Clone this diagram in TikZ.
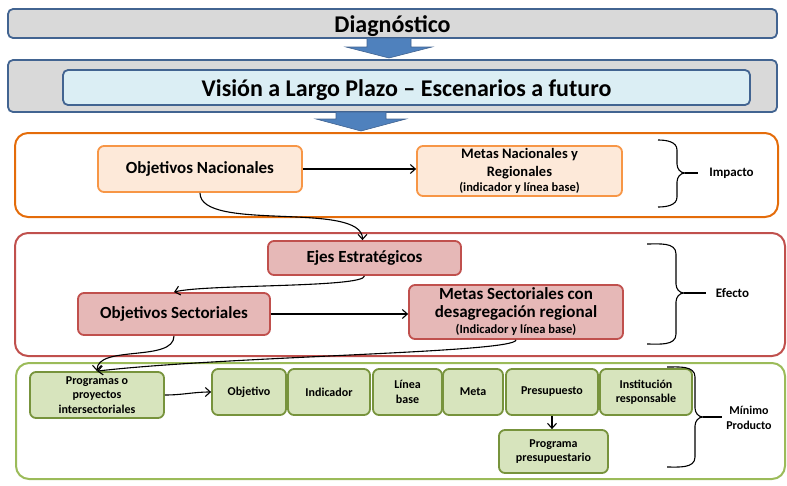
\documentclass[tikz,border=0pt]{standalone}
\usepackage{fontspec}
\setmainfont{Carlito}
\usetikzlibrary{arrows.meta}

\definecolor{bluegrey}{RGB}{66,100,145}
\definecolor{diaggray}{RGB}{217,217,217}
\definecolor{visfill}{RGB}{219,238,244}
\definecolor{arrowblue}{RGB}{79,129,189}
\definecolor{orgline}{RGB}{228,108,10}
\definecolor{orgbord}{RGB}{247,150,70}
\definecolor{orgfill}{RGB}{253,233,217}
\definecolor{redline}{RGB}{192,80,77}
\definecolor{redfill}{RGB}{230,184,183}
\definecolor{grnline}{RGB}{155,187,89}
\definecolor{grnbord}{RGB}{119,147,60}
\definecolor{grnfill}{RGB}{215,228,189}

\tikzset{
  topbox/.style={draw=bluegrey, line width=1.8pt, rounded corners=5pt, inner sep=0pt,
    text height=23pt, text depth=5pt, font=\bfseries\fontsize{24}{28}\selectfont},
  blockarrow/.style={fill=arrowblue, draw=bluegrey, line width=0.6pt},
  frame/.style={line width=2pt, rounded corners=13pt, minimum width=766, inner sep=0pt},
  orgbox/.style={draw=orgbord, fill=orgfill, line width=1.8pt, rounded corners=6pt,
    align=center, inner sep=0pt},
  redbox/.style={draw=redline, fill=redfill, line width=1.8pt, rounded corners=6pt,
    align=center, inner sep=0pt, font=\bfseries\fontsize{17}{20}\selectfont},
  grnbox/.style={draw=grnbord, fill=grnfill, line width=1.8pt, rounded corners=6pt,
    align=center, inner sep=0pt, minimum height=46, font=\bfseries\fontsize{12}{14.5}\selectfont},
  sidelabel/.style={inner sep=0pt, align=center, font=\bfseries\fontsize{13}{15}\selectfont},
  bracepen/.style={line width=1.1pt},
  conn/.style={line width=1.1pt, -{Straight Barb[length=5pt,width=9pt]}},
}

% right brace: x left, x spine, y top, y middle, y bottom, label, gap
\newcommand{\sidebrace}[7]{%
  \draw[bracepen] (#1,-#3) to[out=0,in=90] (#2,-#3-10) -- (#2,-#4+9)
    to[out=-90,in=180] (#2+8,-#4) to[out=180,in=90] (#2,-#4-9)
    -- (#2,-#5+10) to[out=-90,in=0] (#1,-#5);
  \draw[bracepen] (#2+8,-#4) -- ([xshift=-#7pt]#6.west |- 0,-#4);}

\begin{document}
\begin{tikzpicture}[x=1pt,y=1pt]
\useasboundingbox (0,0) rectangle (787,-485);

% diagnostico y vision
\node[topbox, fill=diaggray, minimum width=769, minimum height=29] (diag) at (392.5,-23.5) {Diagnóstico};
\node[topbox, fill=diaggray, minimum width=769, minimum height=52] (visFrame) at (392.5,-86) {};
\node[topbox, fill=visfill, minimum width=687, minimum height=35] (vision) at (406.5,-87.5)
  {Visión a Largo Plazo -- Escenarios a futuro};
\filldraw[blockarrow] (367,-38) -- (411,-38) -- (411,-47) -- (432,-47) -- (389,-58)
  -- (346,-47) -- (367,-47) -- cycle;
\filldraw[blockarrow] (336,-112) -- (386,-112) -- (386,-119) -- (406,-119) -- (361,-131)
  -- (316,-119) -- (336,-119) -- cycle;

% impacto
\node[frame, draw=orgline, minimum width=763, minimum height=84] (orgFrame) at (396.5,-175) {};
\node[orgbox, minimum width=204, minimum height=46, font=\bfseries\fontsize{17}{20}\selectfont]
  (objNac) at (200,-169) {Objetivos Nacionales};
\node[orgbox, minimum width=205, minimum height=50, font=\bfseries\fontsize{14.5}{18}\selectfont]
  (metasNac) at (519.5,-171) {Metas Nacionales y\\Regionales\\[-3pt]
  {\fontsize{12.5}{14}\selectfont(indicador y línea base)}};
\node[sidelabel] (impacto) at (731.5,-173) {Impacto};
\sidebrace{658}{677}{140}{173}{207}{impacto}{11}

% efecto
\node[frame, draw=redline, minimum width=770, minimum height=123] (redFrame) at (400,-294.5) {};
\node[redbox, minimum width=193, minimum height=34] (ejes) at (364.5,-258) {Ejes Estratégicos};
\node[redbox, minimum width=192, minimum height=42] (objSect) at (174,-314) {Objetivos Sectoriales};
\node[redbox, minimum width=214, minimum height=54] (metasSect) at (516,-312)
  {Metas Sectoriales con\\[-2pt]desagregación regional\\[-4pt]
  {\fontsize{12.5}{14}\selectfont(Indicador y línea base)}};
\node[sidelabel] (efecto) at (732.5,-293) {Efecto};
\sidebrace{647}{676}{244}{293}{344}{efecto}{10}

% producto
\node[frame, draw=grnline, minimum width=769, minimum height=116] (grnFrame) at (400.5,-421) {};
\node[grnbox, minimum width=134] (prog) at (97,-395) {Programas o\\proyectos\\intersectoriales};
\node[grnbox, minimum width=74] (obj) at (249,-392) {Objetivo};
\node[grnbox, minimum width=82] (ind) at (329,-392) {Indicador};
\node[grnbox, minimum width=69] (lin) at (407.5,-392) {Línea\\base};
\node[grnbox, minimum width=60] (meta) at (473,-392) {Meta};
\node[grnbox, minimum width=92] (pres) at (552,-392) {Presupuesto};
\node[grnbox, minimum width=92] (inst) at (646,-392) {Institución\\responsable};
\node[grnbox, minimum width=109, minimum height=43] (progPres) at (553.5,-451.5) {Programa\\presupuestario};
\node[sidelabel, font=\bfseries\fontsize{12}{15}\selectfont] (minimo) at (749,-418) {Mínimo\\Producto};
\sidebrace{667}{695}{367}{417}{467}{minimo}{4}

% conectores
\draw[conn] (objNac.east) -- (metasNac.west |- objNac.east);
\draw[conn] (objNac.south) to[out=-90,in=90,looseness=0.6] ([xshift=-2pt]ejes.north);
\draw[conn] (ejes.south) .. controls +(0,-12) and +(30,8) .. (objSect.north);
\draw[conn] (objSect.east) -- (metasSect.west |- objSect.east);
\draw[conn] (objSect.south) to[out=-90,in=90,looseness=0.8] (prog.north);
\draw[conn] (metasSect.south) .. controls +(0,-13) and +(130,15) .. (prog.north);
\draw[conn] (prog.east) to[out=0,in=180] (obj.west);
\draw[conn] (pres.south) -- (pres.south |- progPres.north);
\end{tikzpicture}
\end{document}
